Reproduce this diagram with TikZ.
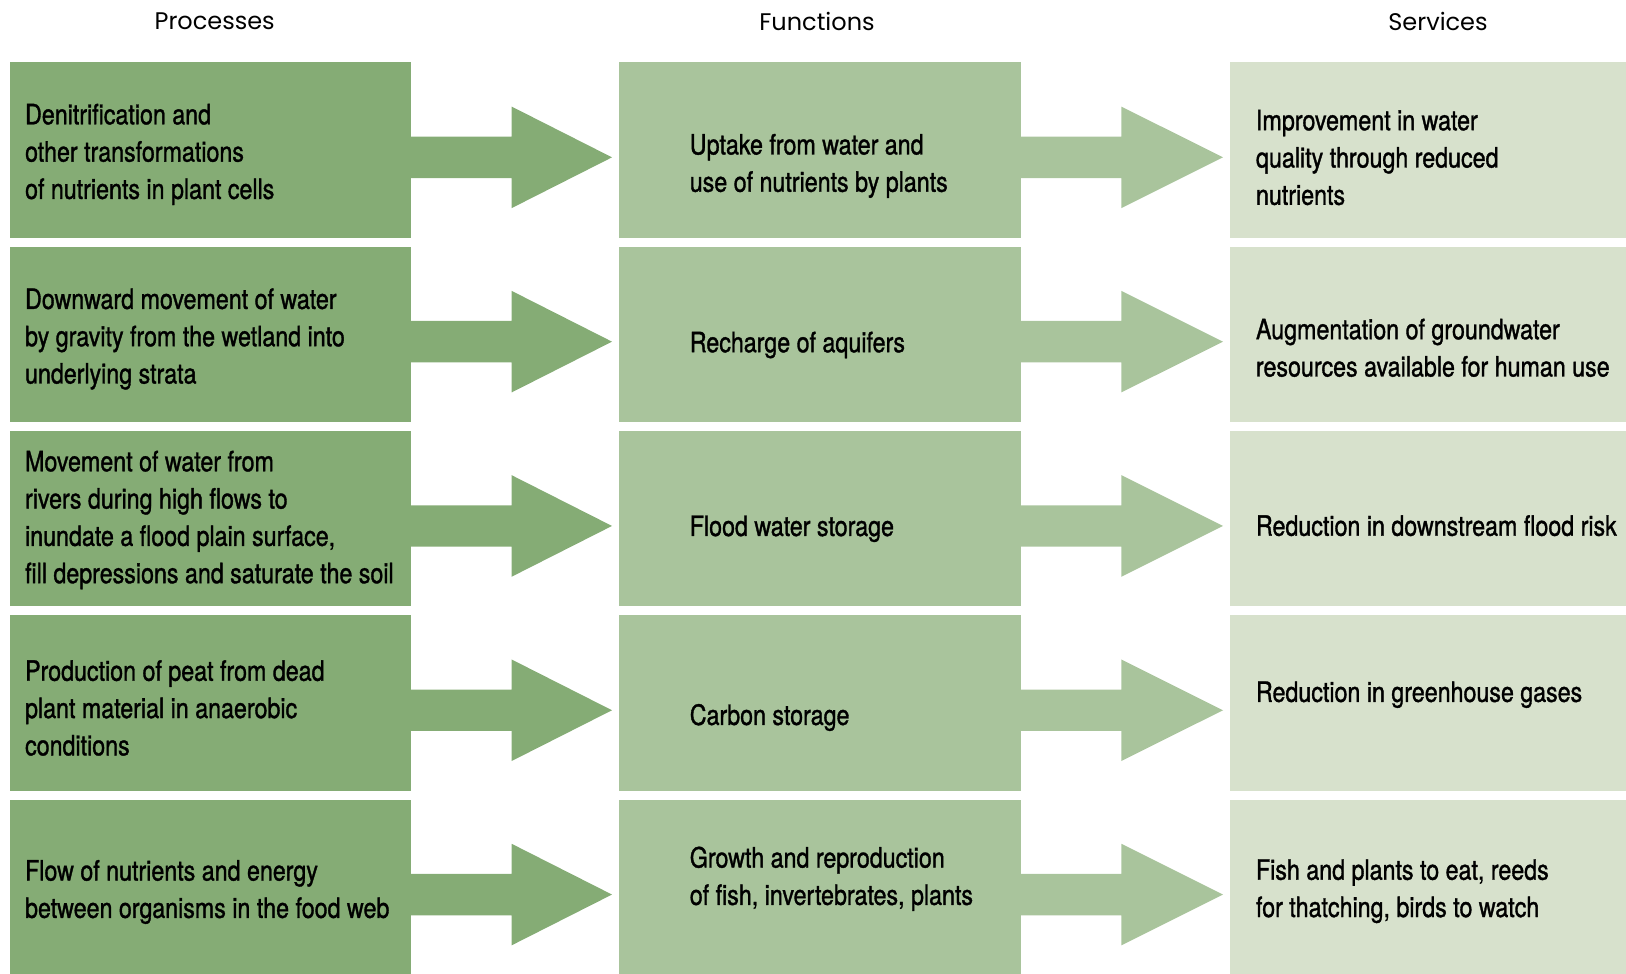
\documentclass[tikz,border=0pt]{standalone}
\usepackage{fontspec}
\usetikzlibrary{calc}
\newfontfamily\bodyfont{TeX Gyre Heros}[FakeStretch=0.83,FakeBold=1.2]
\newfontfamily\hdrfont{Poppins}
\definecolor{cP}{HTML}{85AC75}
\definecolor{cF}{HTML}{A9C49C}
\definecolor{cS}{HTML}{D7E1CC}
\tikzset{
  box/.style={rectangle, inner sep=0pt, minimum width=401.3pt, minimum height=175.3pt, anchor=north west},
  pbox/.style={box, fill=cP},
  fbox/.style={box, fill=cF},
  sbox/.style={box, fill=cS},
  txt/.style={anchor=west, align=left, inner sep=0pt, font=\bodyfont\fontsize{28}{37.3}\selectfont, text=black},
  hdr/.style={font=\hdrfont\fontsize{24}{28}\selectfont, text=black, inner sep=0pt},
}
\newcommand{\fatarrow}[3]{% from node, to node, colour
  \fill[#3] ($(#1.east)+(0,-13.4)$) -- ($(#1.east)+(100.6,-13.4)$) -- ($(#1.east)+(100.6,-43.5)$)
    -- ($(#2.west)+(-7,7.3)$) -- ($(#1.east)+(100.6,58.1)$) -- ($(#1.east)+(100.6,28)$) -- ($(#1.east)+(0,28)$) -- cycle;}
\begin{document}
\begin{tikzpicture}[x=1pt,y=-1pt]
\useasboundingbox (0,0) rectangle (1626,974);
\node[hdr] (hP) at (214.7,21) {Processes};
\node[hdr] (hF) at (817,21) {Functions};
\node[hdr] (hS) at (1438,21) {Services};
\foreach \i/\y in {1/62.2,2/246.5,3/430.8,4/615.1,5/799.4}{
  \node[pbox] (p\i) at (9.3,\y) {};
  \node[fbox] (f\i) at (619,\y) {};
  \node[sbox] (s\i) at (1230,\y) {};
}
\foreach \i in {1,...,5}{
  \fatarrow{p\i}{f\i}{cP}
  \fatarrow{f\i}{s\i}{cF}
}
% texts
\node[txt] (p1t) at (24.9,154.4) {Denitrification and\\other transformations\\of nutrients in plant cells};
\node[txt] (f1t) at (689.6,165.9) {Uptake from water and\\use of nutrients by plants};
\node[txt] (s1t) at (1255.8,157.5) {Improvement in water\\quality through reduced\\nutrients};
\node[txt] (p2t) at (24.9,339) {Downward movement of water\\by gravity from the wetland into\\underlying strata};
\node[txt] (f2t) at (689.6,345) {Recharge of aquifers};
\node[txt] (s2t) at (1255.8,347.8) {Augmentation of groundwater\\resources available for human use};
\node[txt] (p3t) at (24.9,520) {Movement of water from\\rivers during high flows to\\inundate a flood plain surface,\\fill depressions and saturate the soil};
\node[txt] (f3t) at (689.6,528.8) {Flood water storage};
\node[txt] (s3t) at (1255.8,525.7) {Reduction in downstream flood risk};
\node[txt] (p4t) at (24.9,708) {Production of peat from dead\\plant material in anaerobic\\conditions};
\node[txt] (f4t) at (689.6,717.5) {Carbon storage};
\node[txt] (s4t) at (1255.8,694.7) {Reduction in greenhouse gases};
\node[txt] (p5t) at (24.9,892) {Flow of nutrients and energy\\between organisms in the food web};
\node[txt] (f5t) at (689.6,878.8) {Growth and reproduction\\of fish, invertebrates, plants};
\node[txt] (s5t) at (1255.8,891.2) {Fish and plants to eat, reeds\\for thatching, birds to watch};
\end{tikzpicture}
\end{document}
